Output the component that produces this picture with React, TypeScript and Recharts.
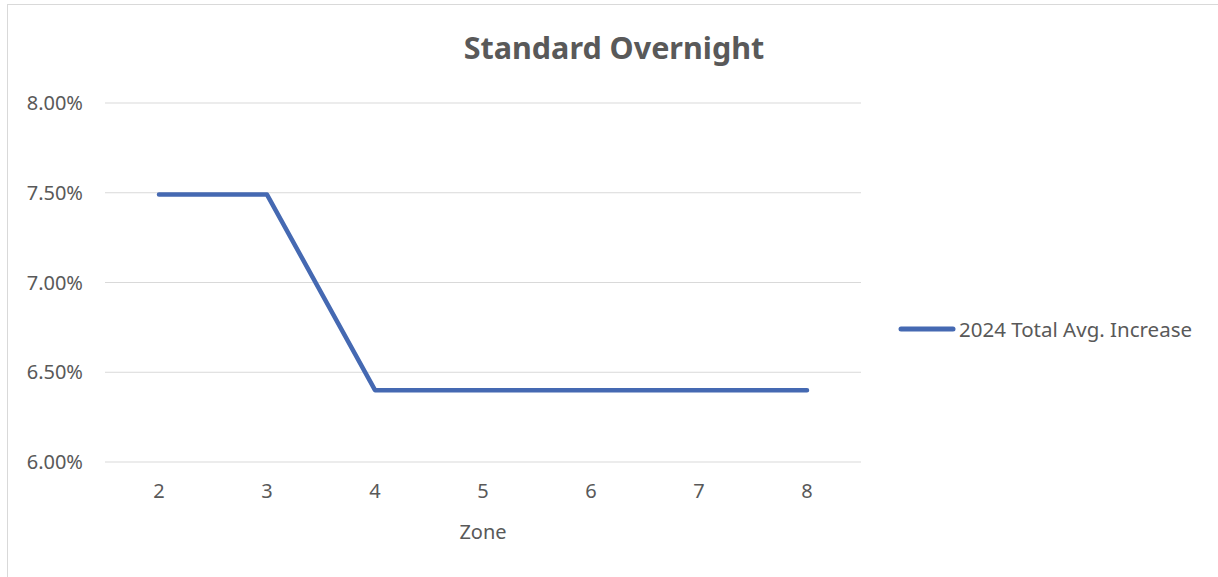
import React from 'react';
import { LineChart, Line, XAxis, YAxis, CartesianGrid, Legend } from 'recharts';

const zones = ['2', '3', '4', '5', '6', '7', '8'];
const avgIncrease = [0.0749, 0.0749, 0.064, 0.064, 0.064, 0.064, 0.064];
const yTicks = [0.06, 0.065, 0.07, 0.075, 0.08];
const seriesName = '2024 Total Avg. Increase';
const title = 'Standard Overnight';

const data = zones.map((z, i) => ({ zone: z, value: avgIncrease[i] }));

const FONT = '"Noto Sans", "Open Sans", sans-serif';
const TEXT = '#595959';
const LINE = '#4569B2';

const LegendContent = () => (
  <div style={{ display: 'flex', alignItems: 'center', fontFamily: FONT, fontSize: 20.5, color: TEXT, whiteSpace: 'nowrap' }}>
    <svg width={58} height={10} style={{ display: 'block' }}>
      <line x1={3} y1={5} x2={55} y2={5} stroke={LINE} strokeWidth={5} strokeLinecap="round" />
    </svg>
    <span style={{ marginLeft: 3 }}>{seriesName}</span>
  </div>
);

export default function App() {
  return (
    <div
      style={{
        position: 'absolute',
        left: 7,
        top: 4,
        width: 1211,
        height: 573,
        borderTop: '1px solid #d9d9d9',
        borderLeft: '1px solid #d9d9d9',
        background: '#fff',
      }}
    >
      <div style={{ position: 'relative', width: 1210, height: 572 }}>
        <div
          style={{
            position: 'absolute',
            left: 306,
            width: 600,
            top: 27,
            textAlign: 'center',
            fontFamily: FONT,
            fontWeight: 700,
            fontSize: 30.5,
            lineHeight: '30px',
            color: TEXT,
          }}
        >
          {title}
        </div>
        <LineChart width={1210} height={572} data={data} margin={{ top: 98, right: 357, left: 0, bottom: 0 }}>
          <CartesianGrid vertical={false} stroke="#d9d9d9" strokeWidth={1.2} />
          <XAxis
            dataKey="zone"
            height={115}
            axisLine={false}
            tickLine={false}
            tickSize={0}
            tickMargin={22}
            padding={{ left: 54, right: 54 }}
            tick={{ fill: TEXT, fontSize: 20, fontFamily: FONT }}
            label={{ value: 'Zone', position: 'insideBottom', offset: 38, fill: TEXT, fontSize: 20, fontFamily: FONT }}
          />
          <YAxis
            width={97}
            domain={[0.06, 0.08]}
            ticks={yTicks}
            axisLine={false}
            tickLine={false}
            tickSize={0}
            tickMargin={22}
            tickFormatter={(v: number) => (v * 100).toFixed(2) + '%'}
            tick={{ fill: TEXT, fontSize: 20, fontFamily: FONT }}
          />
          <Legend
            layout="horizontal"
            verticalAlign="middle"
            align="center"
            content={<LegendContent />}
            wrapperStyle={{ left: 890, top: 310, width: 320 }}
          />
          <Line
            type="linear"
            dataKey="value"
            name={seriesName}
            stroke={LINE}
            strokeWidth={4.5}
            strokeLinecap="round"
            strokeLinejoin="round"
            dot={false}
            activeDot={false}
            isAnimationActive={false}
          />
        </LineChart>
      </div>
    </div>
  );
}
